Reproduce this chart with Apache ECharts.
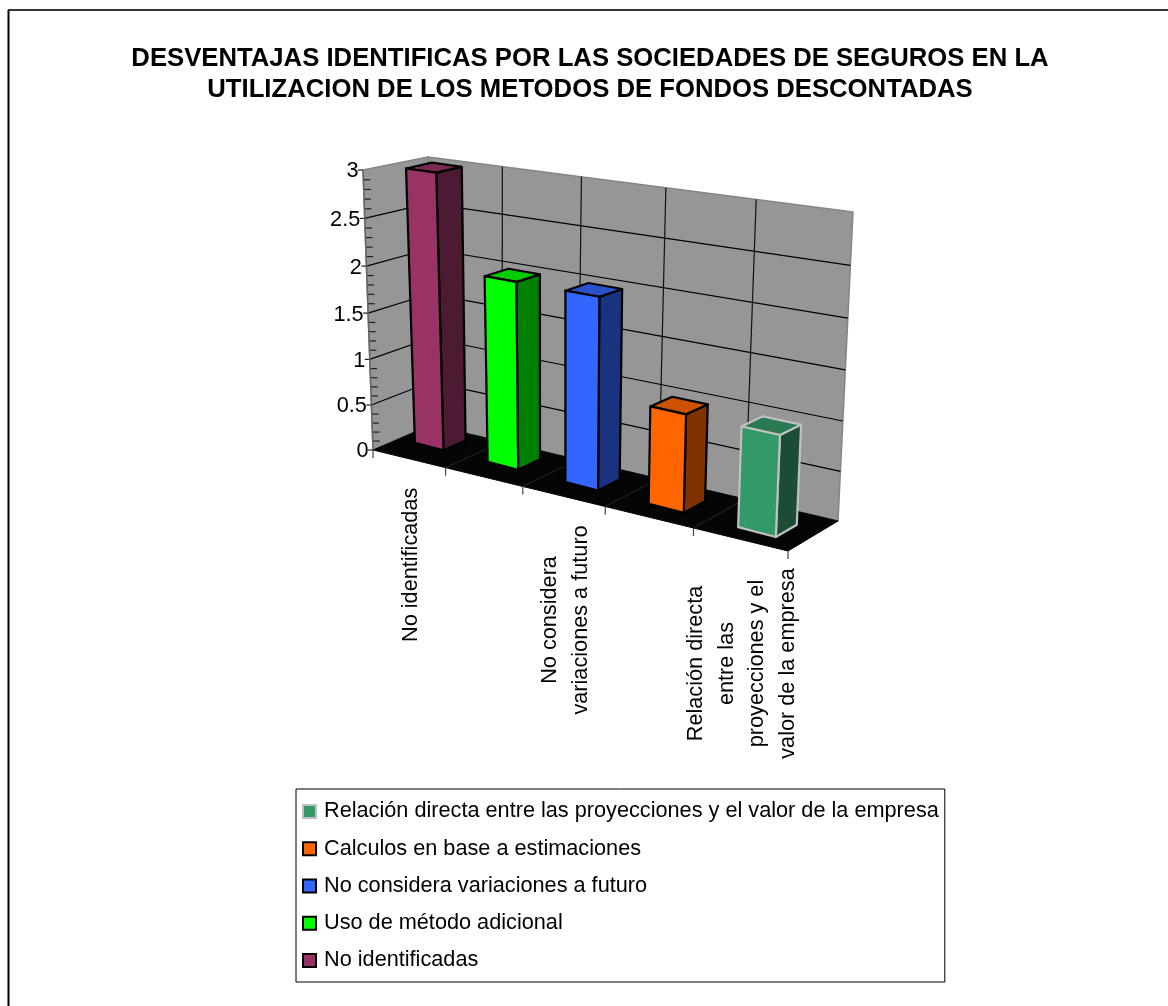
<!DOCTYPE html>
<html>
<head>
<meta charset="utf-8">
<style>html,body{margin:0;padding:0;background:#fff}#chart{width:1168px;height:1006px}</style>
<script src="https://cdn.jsdelivr.net/npm/echarts@6/dist/echarts.min.js"></script>
</head>
<body>
<div id="chart"></div>
<script>
// Chart content
const titleLines = [
  'DESVENTAJAS IDENTIFICAS POR LAS SOCIEDADES DE SEGUROS EN LA',
  'UTILIZACION DE LOS METODOS DE FONDOS DESCONTADAS'
];
const categories = [
  'No identificadas',
  'Uso de método adicional',
  'No considera variaciones a futuro',
  'Calculos en base a estimaciones',
  'Relación directa entre las proyecciones y el valor de la empresa'
];
const values = [3, 2, 2, 1, 1];
const yTicks = [0, 0.5, 1, 1.5, 2, 2.5, 3];
const yMinorTicks = [0.1, 0.2, 0.3, 0.4, 0.6, 0.7, 0.8, 0.9, 1.1, 1.2, 1.3, 1.4, 1.6, 1.7, 1.8, 1.9,
  2.1, 2.2, 2.3, 2.4, 2.6, 2.7, 2.8, 2.9];
const yTickLabels = ['0', '0.5', '1', '1.5', '2', '2.5', '3'];
// Only every other category gets a label, wrapped the way the axis wraps it
const xLabelLines = {
  0: ['No identificadas'],
  2: ['No considera', 'variaciones a futuro'],
  4: ['Relación directa', 'entre las', 'proyecciones y el', 'valor de la empresa']
};

// Face colours per bar: front, side, top, outline
const frontColors = ['#993366', '#00ff00', '#3366ff', '#ff6600', '#339966'];
const sideColors = ['#4d1a33', '#008000', '#1a3380', '#803300', '#1a4d33'];
const topColors = ['#7a2952', '#00cc00', '#2952cc', '#cc5200', '#297a52'];
const edgeColors = ['#000000', '#000000', '#000000', '#000000', '#c0c0c0'];

// Box corners on screen: [front, back] x [left, right] x [floor, ceiling]
const BOX = {
  fl0: [373, 450], fr0: [788, 551], bl0: [431, 425], br0: [838, 521],
  fl1: [363, 170], fr1: [802, 228], bl1: [428, 157], br1: [853, 212]
};
const X_WARP = 1.18;      // left categories are further away and look narrower
const Y_WARP = 1.045;     // the upper part of the box is closer to the viewer
const DEPTH_WARP = 0.22;  // depth foreshortening varies from left to right
const CEIL_BULGE_X = -3, CEIL_BULGE_Y = 2; // interior of the ceiling plane relative to its edges
const BAR_NEAR = 0.35, BAR_FAR = 0.75, BAR_LEFT = 0.28, BAR_WIDTH = 0.41, BAR_SPREAD = 0.024;
const FONT = '"Liberation Sans", Arial, sans-serif';
const FONT_SIZE = 21.7;

// Maps normalised box coordinates (along, up, depth) to screen pixels
function project(t, vIn, z) {
  const u = t / (t + X_WARP * (1 - t));
  const v = vIn / (vIn + Y_WARP * (1 - vIn));
  const w = z + 4 * z * (1 - z) * DEPTH_WARP * (1 - 2 * u) * 0.5;
  const mix = function (a, b, k) { return [a[0] + (b[0] - a[0]) * k, a[1] + (b[1] - a[1]) * k]; };
  const floor = mix(mix(BOX.fl0, BOX.fr0, u), mix(BOX.bl0, BOX.br0, u), w);
  const ceil = mix(mix(BOX.fl1, BOX.fr1, u), mix(BOX.bl1, BOX.br1, u), w);
  const bulge = 4 * w * (1 - w);
  ceil[0] += CEIL_BULGE_X * bulge * (1 - u);
  ceil[1] += CEIL_BULGE_Y * bulge;
  return mix(floor, ceil, v);
}

// Converts a data point to normalised box coordinates through the grid's axes
function normalise(params, api, cat, value) {
  const cs = params.coordSys;
  const band = api.size([1, 0])[0];
  const p = api.coord([Math.floor(cat), value]);
  const x = p[0] - band / 2 + (cat - Math.floor(cat)) * band;
  return [(x - cs.x) / cs.width, (cs.y + cs.height - p[1]) / cs.height];
}

function poly(points, fill, stroke, lineWidth) {
  return { type: 'polygon', shape: { points: points },
    style: { fill: fill, stroke: stroke, lineWidth: lineWidth, lineJoin: 'round' } };
}
function seg(a, b, stroke, lineWidth) {
  return { type: 'line', shape: { x1: a[0], y1: a[1], x2: b[0], y2: b[1] },
    style: { stroke: stroke, lineWidth: lineWidth, fill: null } };
}

function measure(text) {
  const ctx = measure.ctx || (measure.ctx = document.createElement('canvas').getContext('2d'));
  ctx.font = FONT_SIZE + 'px ' + FONT;
  return ctx.measureText(text).width;
}

// Walls, floor, gridlines, ticks and tick labels
function renderFrame(params, api) {
  const n = categories.length;
  const kids = [];
  const wall = '#969696', wallEdge = '#858585';
  kids.push(poly([project(0, 0, 1), project(1, 0, 1), project(1, 1, 1), project(0, 1, 1)], wall, wallEdge, 1.5));
  kids.push(poly([project(0, 0, 0), project(0, 0, 1), project(0, 1, 1), project(0, 1, 0)], wall, wallEdge, 1.5));
  kids.push(poly([project(0, 0, 0), project(1, 0, 0), project(1, 0, 1), project(0, 0, 1)], '#050505', '#050505', 1));

  // Value gridlines along the side and back walls
  yTicks.forEach(function (tick, i) {
    const v = normalise(params, api, 0, tick)[1];
    if (i > 0 && i < yTicks.length - 1) {
      kids.push(seg(project(0, v, 0), project(0, v, 1), '#000', 1.2));
      kids.push(seg(project(0, v, 1), project(1, v, 1), '#000', 1.2));
    }
    const a = project(0, v, 0);
    kids.push(seg([a[0] - 5, a[1]], a, '#222', 1.2));
    kids.push({ type: 'text', style: { x: a[0] - 4.5, y: a[1] + 1.5, text: yTickLabels[i], font: FONT_SIZE + 'px ' + FONT,
      fill: '#000', align: 'right', verticalAlign: 'middle' } });
  });
  yMinorTicks.forEach(function (tick) {
    const v = normalise(params, api, 0, tick)[1];
    const a = project(0, v, 0);
    kids.push(seg(a, [a[0] + 7, a[1]], '#222', 1.2));
  });
  kids.push(seg(project(0, 0, 0), project(0, 1, 0), '#666', 1.5));

  // Category boundaries on the back wall, the floor, and below the floor
  for (let i = 0; i <= n; i++) {
    const t = normalise(params, api, Math.min(i, n - 1) + (i === n ? 0.9999 : 0), 0)[0];
    if (i > 0 && i < n) {
      kids.push(seg(project(t, 0, 1), project(t, 1, 1), '#111', 1.2));
      kids.push(seg(project(t, 0, 0), project(t, 0, 1), '#2a2a2a', 1));
    }
    const f = project(t, 0, 0);
    kids.push(seg(f, [f[0], f[1] + 8], '#444', 1.2));
  }

  // Rotated category labels hang below the front edge of the floor
  Object.keys(xLabelLines).forEach(function (key) {
    const i = Number(key);
    const lines = xLabelLines[key];
    const longest = Math.max.apply(null, lines.map(measure));
    const f = project(normalise(params, api, i + 0.5, 0)[0], 0, 0);
    kids.push({ type: 'text', x: f[0] + 2, y: f[1] + 29 + longest / 2, rotation: Math.PI / 2,
      style: { x: 0, y: 0, text: lines.join('\n'), font: FONT_SIZE + 'px ' + FONT, lineHeight: 30.5,
        fill: '#000', align: 'center', verticalAlign: 'middle' } });
  });
  return { type: 'group', children: kids };
}

// One 3D bar: the side, top and front faces of a box standing on the floor
function renderBar(params, api) {
  const i = api.value(0);
  const s = params.seriesIndex - 1;
  const start = i + BAR_LEFT + (i - 2) * BAR_SPREAD;
  const left = normalise(params, api, start, 0)[0];
  const right = normalise(params, api, start + BAR_WIDTH, 0)[0];
  const h = normalise(params, api, i, api.value(1))[1];
  const edge = edgeColors[s];
  const lw = 2.2;
  return { type: 'group', children: [
    poly([project(right, 0, BAR_NEAR), project(right, 0, BAR_FAR), project(right, h, BAR_FAR), project(right, h, BAR_NEAR)],
      sideColors[s], edge, lw),
    poly([project(left, h, BAR_NEAR), project(right, h, BAR_NEAR), project(right, h, BAR_FAR), project(left, h, BAR_FAR)],
      topColors[s], edge, lw),
    poly([project(left, 0, BAR_NEAR), project(right, 0, BAR_NEAR), project(right, h, BAR_NEAR), project(left, h, BAR_NEAR)],
      frontColors[s], edge, lw)
  ] };
}

const frameSeries = {
  type: 'custom', name: 'marco', silent: true, z: 1, renderItem: renderFrame,
  data: [[0, 0]], encode: { x: 0, y: 1 }, clip: false
};
const barSeries = categories.map(function (name, i) {
  return {
    type: 'custom', name: name, z: 2, renderItem: renderBar, clip: false,
    data: [[i, values[i]]], encode: { x: 0, y: 1 },
    itemStyle: { color: frontColors[i], borderColor: edgeColors[i], borderWidth: 2 }
  };
});

const chart = echarts.init(document.getElementById('chart'), null, { renderer: 'canvas' });
chart.setOption({
  animation: false,
  backgroundColor: '#ffffff',
  title: {
    text: titleLines.join('\n'), left: 585, top: 38, textAlign: 'center',
    textStyle: { fontFamily: FONT, fontSize: 25.7, fontWeight: 'bold', color: '#000', lineHeight: 31 }
  },
  grid: { left: 363, top: 170, width: 425, height: 280 },
  xAxis: { type: 'category', data: categories, show: false },
  yAxis: { type: 'value', min: 0, max: 3, interval: 0.5, show: false },
  legend: {
    orient: 'vertical', left: 296, top: 789,
    data: categories.slice().reverse(),
    icon: 'rect', itemWidth: 13, itemHeight: 13, itemGap: 12.25,
    padding: [10, 6, 9, 6], borderColor: '#000', borderWidth: 1, backgroundColor: '#fff',
    textStyle: { fontFamily: FONT, fontSize: FONT_SIZE, color: '#000', lineHeight: 25, height: 25, padding: [0, 0, 0, 3] },
    selectedMode: false
  },
  graphic: [
    { type: 'line', shape: { x1: 8, y1: 10, x2: 1168, y2: 10 }, style: { stroke: '#333', lineWidth: 2 }, silent: true },
    { type: 'line', shape: { x1: 8.5, y1: 10, x2: 8.5, y2: 1006 }, style: { stroke: '#000', lineWidth: 2 }, silent: true }
  ],
  series: [frameSeries].concat(barSeries)
});
</script>
</body>
</html>
